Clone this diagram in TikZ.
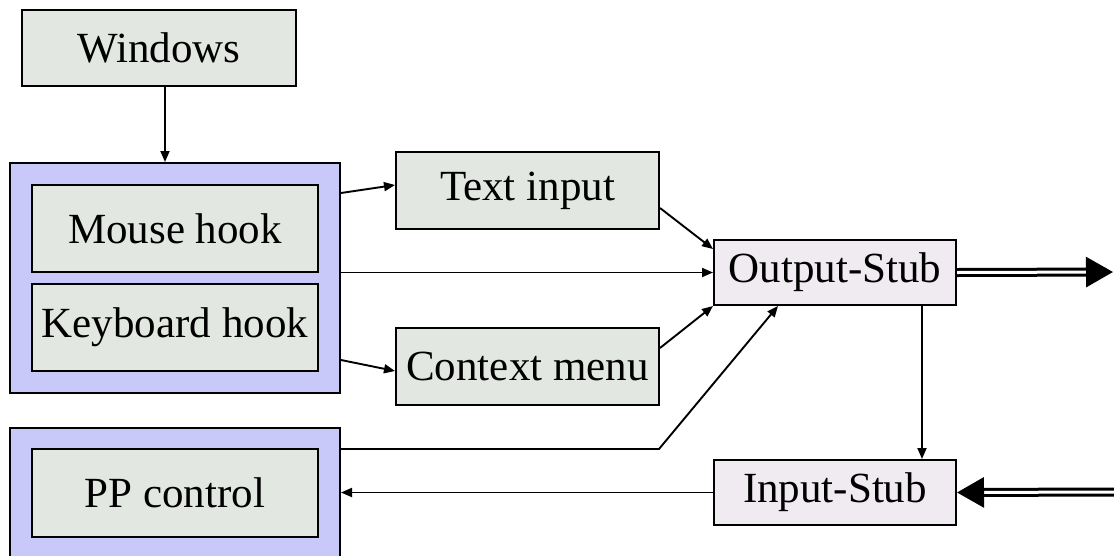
\documentclass[tikz,border=0pt]{standalone}
\usepackage{fontspec}
\setmainfont{Liberation Serif}
\usetikzlibrary{arrows.meta}
\definecolor{boxgray}{HTML}{E3E7E2}
\definecolor{lav}{HTML}{C9C9F9}
\definecolor{stub}{HTML}{EFEBF0}
\begin{document}
\begin{tikzpicture}[x=1pt,y=-1pt,
  base/.style={draw=black, line width=2pt, inner sep=0pt, font=\fontsize{43}{50}\selectfont},
  gbox/.style={base, fill=boxgray},
  grp/.style={base, fill=lav},
  sbox/.style={base, fill=stub},
  arr/.style={line width=1.9pt, -{Triangle[length=11pt,width=9pt]}},
  dbl/.style={line width=3pt, double=white, double distance=3pt, -{Triangle[length=27pt,width=30pt]}}
]
\useasboundingbox (0,0) rectangle (1114,555);
\fill[white] (0,0) rectangle (1114,555);
\node[gbox, minimum width=274pt, minimum height=76pt] (win) at (159,48) {Windows};
\node[grp, minimum width=330pt, minimum height=230pt] (grp1) at (175,278) {};
\node[gbox, minimum width=286pt, minimum height=87pt] (mouse) at (175,228.5) {Mouse hook};
\node[gbox, minimum width=286pt, minimum height=87pt] (kbd) at (175,327.5) {Keyboard hook};
\node[grp, minimum width=330pt, minimum height=140pt] (grp2) at (175,498) {};
\node[gbox, minimum width=286pt, minimum height=88pt] (pp) at (175,493) {PP control};
\node[gbox, minimum width=263pt, minimum height=77pt] (text) at (527.5,190.5) {Text input};
\node[gbox, minimum width=263pt, minimum height=77pt] (ctx) at (527.5,366.5) {Context menu};
\node[sbox, minimum width=242pt, minimum height=65pt] (out) at (835,272.5) {Output-Stub};
\node[sbox, minimum width=242pt, minimum height=65pt] (in) at (835,492.5) {Input-Stub};
\coordinate (outR) at (1113,272);
\coordinate (inR) at (1114,492);
\coordinate (bend) at (659,449);

\draw[arr] ([xshift=6pt]win.south) -- ([xshift=6pt]win.south |- grp1.north);
\draw[arr] (grp1.east |- 0,193) -- (text.west |- 0,185);
\draw[arr] (grp1.east |- 0,360) -- (ctx.west |- 0,371);
\draw[arr] (grp1.east |- out.west) -- (out.west);
\draw[arr] (text.east |- 0,208) -- (out.west |- 0,249);
\draw[arr] (ctx.east |- 0,348) -- (out.south west);
\draw[arr] (grp2.east |- bend) -- (bend) -- (out.south -| 778,0);
\draw[arr] (out.south -| 922,0) -- (in.north -| 922,0);
\draw[arr] (in.west) -- (grp2.east |- in.west);
\draw[dbl] (out.east) -- (outR);
\draw[dbl] (inR) -- (in.east);
\end{tikzpicture}
\end{document}
